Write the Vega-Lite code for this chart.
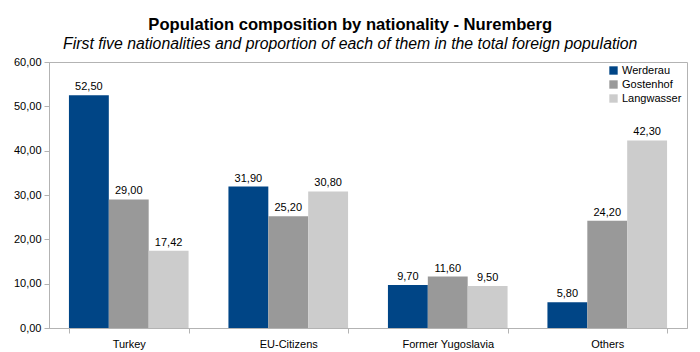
{
  "$schema": "https://vega.github.io/schema/vega-lite/v6.json",
  "width": 638,
  "height": 266,
  "autosize": {"type": "none"},
  "padding": {"left": 49, "top": 62, "right": 13, "bottom": 24},
  "background": "white",
  "title": {
    "text": "Population composition by nationality - Nuremberg",
    "subtitle": "First five nationalities and proportion of each of them in the total foreign population",
    "font": "Liberation Sans",
    "fontSize": 16.6,
    "fontWeight": "bold",
    "color": "black",
    "subtitleFont": "Liberation Sans",
    "subtitleFontSize": 15.8,
    "subtitleFontStyle": "italic",
    "subtitleColor": "black",
    "subtitlePadding": 4,
    "anchor": "middle",
    "frame": "bounds",
    "offset": 4
  },
  "config": {
    "locale": {"number": {"decimal": ",", "thousands": ".", "grouping": [3], "currency": ["", " €"]}},
    "view": {"stroke": "#b3b3b3", "strokeWidth": 1},
    "font": "Liberation Sans"
  },
  "data": {
    "values": [
      {"nat": "Turkey", "district": "Werderau", "value": 52.5},
      {"nat": "Turkey", "district": "Gostenhof", "value": 29.0},
      {"nat": "Turkey", "district": "Langwasser", "value": 17.42},
      {"nat": "EU-Citizens", "district": "Werderau", "value": 31.9},
      {"nat": "EU-Citizens", "district": "Gostenhof", "value": 25.2},
      {"nat": "EU-Citizens", "district": "Langwasser", "value": 30.8},
      {"nat": "Former Yugoslavia", "district": "Werderau", "value": 9.7},
      {"nat": "Former Yugoslavia", "district": "Gostenhof", "value": 11.6},
      {"nat": "Former Yugoslavia", "district": "Langwasser", "value": 9.5},
      {"nat": "Others", "district": "Werderau", "value": 5.8},
      {"nat": "Others", "district": "Gostenhof", "value": 24.2},
      {"nat": "Others", "district": "Langwasser", "value": 42.3}
    ]
  },
  "encoding": {
    "x": {
      "field": "nat", "type": "nominal", "sort": null,
      "scale": {"paddingInner": 0.25, "paddingOuter": 0.125},
      "axis": {
        "title": null, "labelAngle": 0, "tickBand": "extent",
        "domainColor": "#b3b3b3", "tickColor": "#b3b3b3", "tickSize": 5,
        "labelFontSize": 11, "labelColor": "black", "labelPadding": 5, "labelFont": "Liberation Sans"
      }
    },
    "xOffset": {"field": "district", "type": "nominal", "sort": ["Werderau", "Gostenhof", "Langwasser"], "scale": {"paddingInner": 0, "paddingOuter": 0}},
    "y": {
      "field": "value", "type": "quantitative",
      "scale": {"domain": [0, 60], "nice": false},
      "axis": {
        "title": null, "grid": false, "values": [0, 10, 20, 30, 40, 50, 60], "format": ".2f",
        "domainColor": "#b3b3b3", "tickColor": "#b3b3b3", "tickSize": 5,
        "labelFontSize": 11, "labelColor": "black", "labelPadding": 3, "labelFont": "Liberation Sans"
      }
    }
  },
  "layer": [
    {
      "mark": {"type": "bar"},
      "encoding": {
        "color": {
          "field": "district", "type": "nominal",
          "sort": ["Werderau", "Gostenhof", "Langwasser"],
          "scale": {"domain": ["Werderau", "Gostenhof", "Langwasser"], "range": ["#004586", "#999999", "#cccccc"]},
          "legend": {
            "title": null, "orient": "none", "legendX": 559, "legendY": 3,
            "symbolType": "square", "symbolSize": 70, "symbolStrokeWidth": 0,
            "labelFontSize": 11, "labelColor": "black", "labelFont": "Liberation Sans",
            "rowPadding": 2, "labelOffset": 3
          }
        }
      }
    },
    {
      "mark": {"type": "text", "dy": -8, "fontSize": 11, "color": "black", "font": "Liberation Sans"},
      "encoding": {
        "text": {"field": "value", "type": "quantitative", "format": ".2f"}
      }
    }
  ]
}
